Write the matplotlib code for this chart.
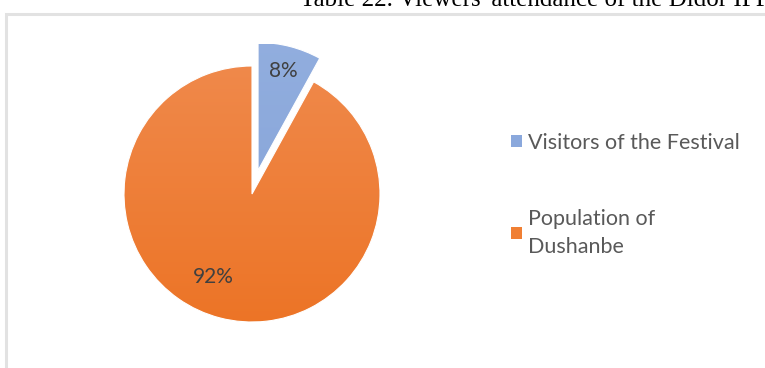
import matplotlib

matplotlib.use("Agg")
import matplotlib.pyplot as plt
import numpy as np
from matplotlib.colors import LinearSegmentedColormap
from matplotlib.patches import Rectangle

labels = ["Visitors of the Festival", "Population of\nDushanbe"]
shares = [8, 92]
explode = [0.19, 0.0]
title = "Table 22. Viewers' attendance of the Didor IFF"

# light top -> darker bottom, like the office-style fill
GRADS = [("#93afdf", "#809fd6"), ("#f08d52", "#ec701f")]
BASE = ["#8aa8dc", "#f07f33"]
TXT = "#404040"

W, H = 765, 368
fig = plt.figure(figsize=(W / 100, H / 100), dpi=100)
fig.patch.set_facecolor("white")

# chart frame clipped by the screenshot, and the cut-off caption above it
fig.add_artist(Rectangle((6 / W, -0.2), 1.2, 1.2 - 14 / H,
                         transform=fig.transFigure, fill=False,
                         edgecolor="#e2e2e2", lw=2.2))
fig.text(300 / W, 1 - 6 / H, title, family="Liberation Serif", fontsize=18,
         va="baseline", ha="left", color="black")

cx, cy, r = 252, H - 194, 128
half = 150
ax = fig.add_axes([(cx - half) / W, (cy - half) / H, 2 * half / W, 2 * half / H])
lim = half / r
ax.axis("off")

wedges, texts, autotexts = ax.pie(
    shares, explode=explode, startangle=90, counterclock=False, radius=1,
    colors=BASE, autopct="%d%%", pctdistance=0.8,
    wedgeprops=dict(edgecolor="white", linewidth=0.8),
    textprops=dict(color=TXT, fontsize=15, family="Lato"),
)
# the big slice's label sits further round, as in the source chart
autotexts[1].set_position((-0.3, -0.65))

grad = np.linspace(1, 0, 256).reshape(-1, 1)
for w, (top, bot) in zip(wedges, GRADS):
    cmap = LinearSegmentedColormap.from_list("g", [bot, top])
    im = ax.imshow(grad, cmap=cmap, extent=(-1.4, 1.4, -1.4, 1.4),
                   aspect="auto", zorder=0.5, origin="upper")
    im.set_clip_path(w)
    w.set_facecolor((0, 0, 0, 0))
ax.set_xlim(-lim, lim)
ax.set_ylim(-lim, lim)

leg = fig.legend(wedges, labels, loc="upper left",
                 bbox_to_anchor=(500 / W, 1 - 122 / H), frameon=False,
                 prop=dict(family="Lato", size=15.5), labelcolor="#595959",
                 handlelength=0.5, handleheight=0.5, handletextpad=0.3,
                 labelspacing=2.6, borderpad=0)
for h, c in zip(leg.legend_handles, BASE):
    h.set_facecolor(c)
    h.set_edgecolor("none")
leg.get_texts()[1].set_linespacing(1.5)

fig.savefig("out.png", dpi=100)
